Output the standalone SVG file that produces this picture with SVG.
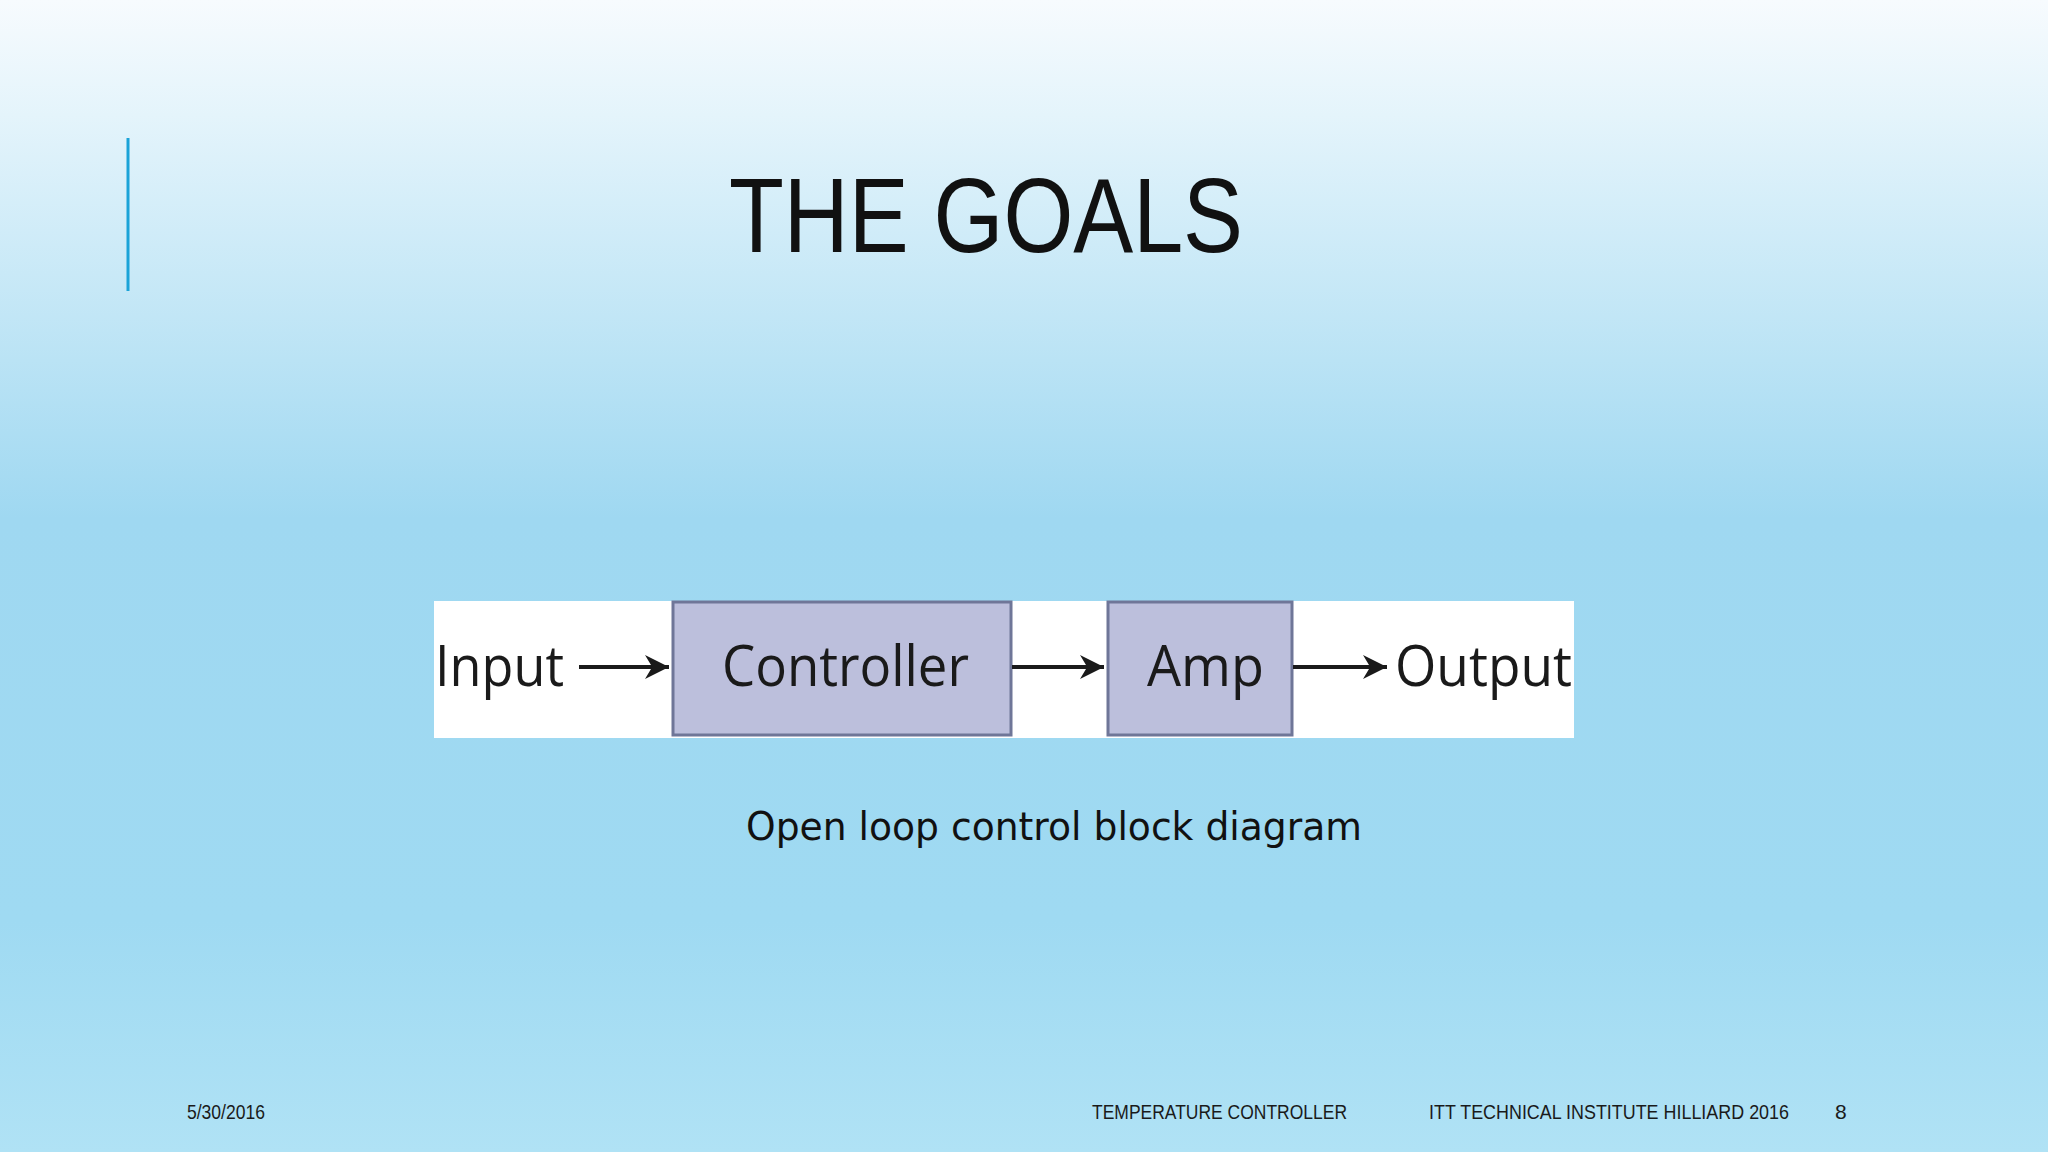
<svg xmlns="http://www.w3.org/2000/svg" width="2048" height="1152" viewBox="0 0 2048 1152">
<defs>
<linearGradient id="bg" x1="0" y1="0" x2="0" y2="1">
<stop offset="0" stop-color="#f7fbfe"/>
<stop offset="0.1" stop-color="#e4f4fb"/>
<stop offset="0.45" stop-color="#9fd8f1"/>
<stop offset="0.8" stop-color="#9fdaf2"/>
<stop offset="1" stop-color="#b0e2f5"/>
</linearGradient>
<marker id="ah" viewBox="0 0 10 10" refX="10" refY="5" markerWidth="6" markerHeight="6" orient="auto" markerUnits="strokeWidth">
<path d="M0,0 L10,5 L0,10 L3,5 z" fill="#1a1a1a"/>
</marker>
<style>
.blk{fill:#bcbfdc;stroke:#6f7698;stroke-width:3}
.lbl{font-family:"Open Sans","DejaVu Sans",sans-serif;font-size:56px;fill:#1a1a1a}
.ft{font-family:"Liberation Sans",sans-serif;font-size:21px;fill:#1a1a1a}
.arr{stroke:#1a1a1a;stroke-width:4;fill:none;marker-end:url(#ah)}
</style>
</defs>
<rect width="2048" height="1152" fill="url(#bg)"/>
<line x1="128" y1="138" x2="128" y2="291" stroke="#1aa3d8" stroke-width="3"/>
<text x="729" y="252" font-family="Liberation Sans,sans-serif" font-size="106" fill="#111" textLength="514" lengthAdjust="spacingAndGlyphs">THE GOALS</text>
<rect x="434" y="601" width="1140" height="137" fill="#ffffff"/>
<g id="input"><text class="lbl" x="435" y="686" textLength="129" lengthAdjust="spacingAndGlyphs">Input</text></g>
<g id="controller"><rect class="blk" x="673" y="602" width="338" height="133"/><text class="lbl" x="722" y="686" textLength="247" lengthAdjust="spacingAndGlyphs">Controller</text></g>
<g id="amp"><rect class="blk" x="1108" y="602" width="184" height="133"/><text class="lbl" x="1147" y="686" textLength="117" lengthAdjust="spacingAndGlyphs">Amp</text></g>
<g id="output"><text class="lbl" x="1395" y="686" textLength="177" lengthAdjust="spacingAndGlyphs">Output</text></g>
<g id="connectors">
<line class="arr" x1="579" y1="667" x2="669" y2="667"/>
<line class="arr" x1="1012" y1="667" x2="1104" y2="667"/>
<line class="arr" x1="1293" y1="667" x2="1387" y2="667"/>
</g>
<text x="746" y="840" font-family="DejaVu Sans,sans-serif" font-size="39" fill="#111" textLength="616" lengthAdjust="spacingAndGlyphs">Open loop control block diagram</text>
<text class="ft" x="187" y="1119" textLength="78" lengthAdjust="spacingAndGlyphs">5/30/2016</text>
<text class="ft" x="1092" y="1119" textLength="255" lengthAdjust="spacingAndGlyphs">TEMPERATURE CONTROLLER</text>
<text class="ft" x="1429" y="1119" textLength="360" lengthAdjust="spacingAndGlyphs">ITT TECHNICAL INSTITUTE  HILLIARD  2016</text>
<text class="ft" x="1835" y="1119">8</text>
</svg>
